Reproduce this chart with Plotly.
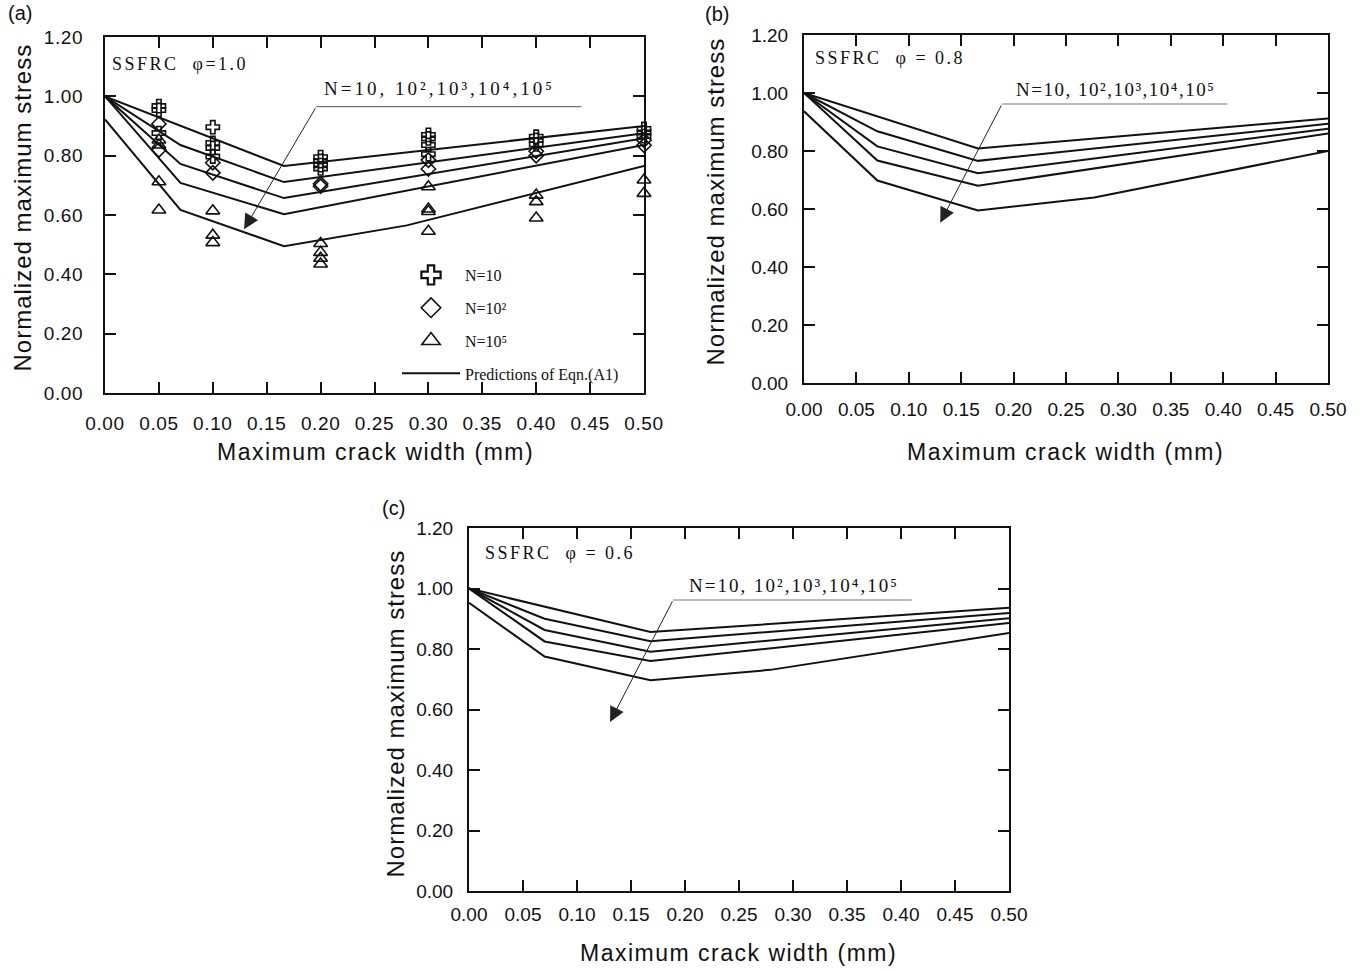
import json
import plotly.graph_objects as go

W, H = 1363, 970

# ---- axes ----
x_ticks = [0.00, 0.05, 0.10, 0.15, 0.20, 0.25, 0.30, 0.35, 0.40, 0.45, 0.50]
y_ticks = [0.00, 0.20, 0.40, 0.60, 0.80, 1.00, 1.20]

# ---- predictions of Eqn.(A1), curves for N = 10, 10^2, 10^3, 10^4, 10^5 ----
# phi = 1.0
phi10_w = [[0.0, 0.166, 0.5],
           [0.0, 0.07, 0.166, 0.5],
           [0.0, 0.07, 0.166, 0.5],
           [0.0, 0.07, 0.166, 0.5],
           [0.0, 0.07, 0.166, 0.28, 0.5]]
phi10_s = [[1.000, 0.765, 0.900],
           [1.000, 0.836, 0.711, 0.876],
           [1.000, 0.772, 0.657, 0.859],
           [1.000, 0.708, 0.603, 0.836],
           [0.922, 0.617, 0.495, 0.565, 0.765]]
# phi = 0.8
phi08_w = [[0.0, 0.166, 0.5],
           [0.0, 0.07, 0.166, 0.5],
           [0.0, 0.07, 0.166, 0.5],
           [0.0, 0.07, 0.166, 0.5],
           [0.0, 0.07, 0.166, 0.277, 0.5]]
phi08_s = [[1.000, 0.809, 0.912],
           [1.000, 0.868, 0.766, 0.894],
           [1.000, 0.816, 0.723, 0.877],
           [1.000, 0.767, 0.680, 0.860],
           [0.937, 0.698, 0.595, 0.640, 0.800]]
# phi = 0.6
phi06_w = [[0.0, 0.168, 0.5],
           [0.0, 0.07, 0.168, 0.5],
           [0.0, 0.07, 0.168, 0.5],
           [0.0, 0.07, 0.168, 0.5],
           [0.0, 0.07, 0.168, 0.279, 0.5]]
phi06_s = [[1.000, 0.856, 0.936],
           [1.000, 0.900, 0.826, 0.919],
           [1.000, 0.863, 0.791, 0.902],
           [1.000, 0.825, 0.760, 0.886],
           [0.953, 0.775, 0.697, 0.731, 0.853]]

# ---- fatigue test results, phi = 1.0 ----
n10_w = [0.05, 0.05, 0.05, 0.10, 0.10, 0.10, 0.10, 0.20, 0.20, 0.20, 0.20,
         0.30, 0.30, 0.30, 0.30, 0.40, 0.40, 0.40, 0.50, 0.50, 0.50]
n10_s = [0.967, 0.954, 0.876, 0.896, 0.843, 0.826, 0.797, 0.795, 0.782, 0.768, 0.757,
         0.870, 0.858, 0.836, 0.805, 0.864, 0.853, 0.838, 0.890, 0.878, 0.866]
n100_w = [0.05, 0.05, 0.10, 0.10, 0.20, 0.20, 0.30, 0.30, 0.40, 0.40, 0.50, 0.50]
n100_s = [0.907, 0.819, 0.776, 0.742, 0.705, 0.697, 0.785, 0.755, 0.815, 0.800, 0.852, 0.835]
n1e5_w = [0.05, 0.05, 0.05, 0.05, 0.10, 0.10, 0.10, 0.20, 0.20, 0.20, 0.20,
          0.30, 0.30, 0.30, 0.30, 0.40, 0.40, 0.40, 0.50, 0.50]
n1e5_s = [0.853, 0.836, 0.712, 0.617, 0.614, 0.532, 0.507, 0.504, 0.474, 0.454, 0.435,
          0.695, 0.620, 0.612, 0.545, 0.667, 0.645, 0.590, 0.718, 0.673]

panel_tags = ["(a)", "(b)", "(c)"]
case_labels = ["SSFRC\u00a0\u00a0φ=1.0", "SSFRC\u00a0\u00a0φ = 0.8", "SSFRC\u00a0\u00a0φ = 0.6"]
n_label = "N=10, 10²,10³,10⁴,10⁵"
y_title = "Normalized maximum stress"
x_title = "Maximum crack width (mm)"
legend_names = ["N=10", "N=10²", "N=10⁵", "Predictions of Eqn.(A1)"]

SANS = "Liberation Sans, Arial, sans-serif"
SERIF = "Liberation Serif, Times New Roman, DejaVu Serif, serif"
INK = "#111111"


def px_x(p):
    return p / W


def px_y(p):
    return 1 - p / H


# plot-area boxes in pixels: left, right, top, bottom
boxes = [(105, 644, 37, 393), (804, 1328, 35, 383), (469, 1009, 528, 891)]
y_label_gap = [16, 10, 10]
x_label_gap = [12, 8, 5]

fig = go.Figure()

ax_names = [("x", "y"), ("x2", "y2"), ("x3", "y3")]
curves = [(phi10_w, phi10_s), (phi08_w, phi08_s), (phi06_w, phi06_s)]

# test markers (panel a)
marker_sets = [
    (n10_w, n10_s, "cross-open", 11),
    (n100_w, n100_s, "diamond-open", 11),
    (n1e5_w, n1e5_s, "triangle-up-open", 12),
]
for k, (xs, ys, sym, sz) in enumerate(marker_sets):
    fig.add_trace(go.Scatter(
        x=xs, y=ys, mode="markers", name=legend_names[k], xaxis="x", yaxis="y",
        showlegend=False, cliponaxis=False,
        marker=dict(symbol=sym, size=sz, color=INK, line=dict(color=INK, width=1.6)),
    ))

for p, ((xa, ya), (ws, ss)) in enumerate(zip(ax_names, curves)):
    for c, (w, s) in enumerate(zip(ws, ss)):
        fig.add_trace(go.Scatter(
            x=w, y=s, mode="lines", xaxis=xa, yaxis=ya,
            name=legend_names[3], showlegend=False,
            line=dict(color=INK, width=2),
        ))

# legend keys (larger symbols than the plotted points)
legend_marks = [("cross-open", 16, 2.2), ("diamond-open", 15, 1.6), ("triangle-up-open", 16, 1.6)]
for k, (sym, sz, lw) in enumerate(legend_marks):
    fig.add_trace(go.Scatter(
        x=[None], y=[None], mode="markers", name=legend_names[k], xaxis="x", yaxis="y",
        legendgroup=f"g{k}",
        marker=dict(symbol=sym, size=sz, color=INK, line=dict(color=INK, width=lw)),
    ))
fig.add_trace(go.Scatter(
    x=[None], y=[None], mode="lines", name=legend_names[3], xaxis="x", yaxis="y",
    legendgroup="g3", line=dict(color=INK, width=2),
))

layout_axes = {}
for p, (l, r, t, b) in enumerate(boxes):
    sfx = "" if p == 0 else str(p + 1)
    common = dict(
        showgrid=False, zeroline=False, showline=True, linecolor=INK, linewidth=2,
        mirror="ticks", ticks="inside", ticklen=11, tickwidth=1.6, tickcolor=INK,
        tickfont=dict(family=SANS, size=19, color=INK), tickformat=".2f",
        fixedrange=True, automargin=False,
    )
    layout_axes["xaxis" + sfx] = dict(
        common, domain=[px_x(l), px_x(r)], anchor="y" + sfx, range=[0, 0.5],
        tickvals=x_ticks, ticklabelstandoff=x_label_gap[p],
    )
    layout_axes["yaxis" + sfx] = dict(
        common, domain=[px_y(b), px_y(t)], anchor="x" + sfx, range=[0, 1.2],
        tickvals=y_ticks, ticklabelstandoff=y_label_gap[p],
    )

annotations = []
spacing = []

# panel tags
for tag, (cx, cy) in zip(panel_tags, [(20, 13), (717, 14), (393, 508)]):
    annotations.append(dict(text=tag, x=px_x(cx), y=px_y(cy), xref="paper", yref="paper",
                            showarrow=False, xanchor="center", yanchor="middle",
                            font=dict(family=SANS, size=20, color=INK)))
    spacing.append(0)

# axis titles
for (cx, cy) in [(22, 208), (715, 201), (395, 714)]:
    annotations.append(dict(text=y_title, x=px_x(cx), y=px_y(cy), xref="paper", yref="paper",
                            showarrow=False, textangle=-90, xanchor="center", yanchor="middle",
                            font=dict(family=SANS, size=24, color=INK)))
    spacing.append(1)
for (cx, cy) in [(375, 452), (1065, 452), (738, 953)]:
    annotations.append(dict(text=x_title, x=px_x(cx), y=px_y(cy), xref="paper", yref="paper",
                            showarrow=False, xanchor="center", yanchor="middle",
                            font=dict(family=SANS, size=23, color=INK)))
    spacing.append(1.5)

# case labels
for (xa, ya), lab, (lx, ly) in zip(ax_names, case_labels,
                                    [(0.005, 1.109), (0.009, 1.120), (0.013, 1.117)]):
    annotations.append(dict(text=lab, x=lx, y=ly, xref=xa, yref=ya, showarrow=False,
                            xanchor="left", yanchor="middle", align="left",
                            font=dict(family=SERIF, size=18, color=INK)))
    spacing.append(2.5)

# N labels
for (xa, ya), (lx, ly), sp in zip(ax_names, [(0.201, 0.985), (0.200, 0.968), (0.2016, 0.970)],
                                  [3, 1.5, 2]):
    annotations.append(dict(text=n_label, x=lx, y=ly, xref=xa, yref=ya, showarrow=False,
                            xanchor="left", yanchor="bottom", align="left",
                            font=dict(family=SERIF, size=19, color=INK)))
    spacing.append(sp)

# arrows pointing in the direction of increasing N
arrow_tail = [(0.196, 0.965), (0.189, 0.962), (0.189, 0.962)]
arrow_tip = [(0.129, 0.552), (0.130, 0.553), (0.1306, 0.559)]
underline_end = [0.442, 0.404, 0.410]
shapes = []
for (xa, ya), (tx, ty), (hx, hy), ue in zip(ax_names, arrow_tail, arrow_tip, underline_end):
    annotations.append(dict(text="", x=hx, y=hy, ax=tx, ay=ty, xref=xa, yref=ya,
                            axref=xa, ayref=ya, showarrow=True, arrowhead=2, arrowsize=3,
                            arrowwidth=1, arrowcolor="#222222", standoff=0, startstandoff=0))
    spacing.append(0)
    shapes.append(dict(type="line", xref=xa, yref=ya, x0=tx, x1=ue, y0=ty, y1=ty,
                       line=dict(color="#777777", width=1.2)))

fig.update_layout(
    width=W, height=H, margin=dict(l=0, r=0, t=0, b=0),
    paper_bgcolor="white", plot_bgcolor="white",
    font=dict(family=SANS, color=INK, size=16),
    annotations=annotations, shapes=shapes,
    showlegend=True,
    legend=dict(x=px_x(397), y=px_y(258), xanchor="left", yanchor="top",
                bgcolor="rgba(0,0,0,0)", borderwidth=0, itemwidth=58,
                tracegroupgap=9, itemsizing="trace",
                font=dict(family=SERIF, size=16, color=INK)),
    **layout_axes,
)

post_js = """
var gd = document.getElementById('{plot_id}');
var spacing = SPACING;
gd.querySelectorAll('g.annotation').forEach(function (g) {
  var i = parseInt(g.getAttribute('data-index'), 10);
  var t = g.querySelector('text.annotation-text');
  if (t && spacing[i]) { t.style.letterSpacing = spacing[i] + 'px'; }
});
gd.querySelectorAll('g.xtick text, g.ytick text').forEach(function (t) {
  t.style.letterSpacing = '0.6px';
});
""".replace("SPACING", json.dumps(spacing))

fig.write_html("out.html", post_script=post_js, config={"displayModeBar": False})
